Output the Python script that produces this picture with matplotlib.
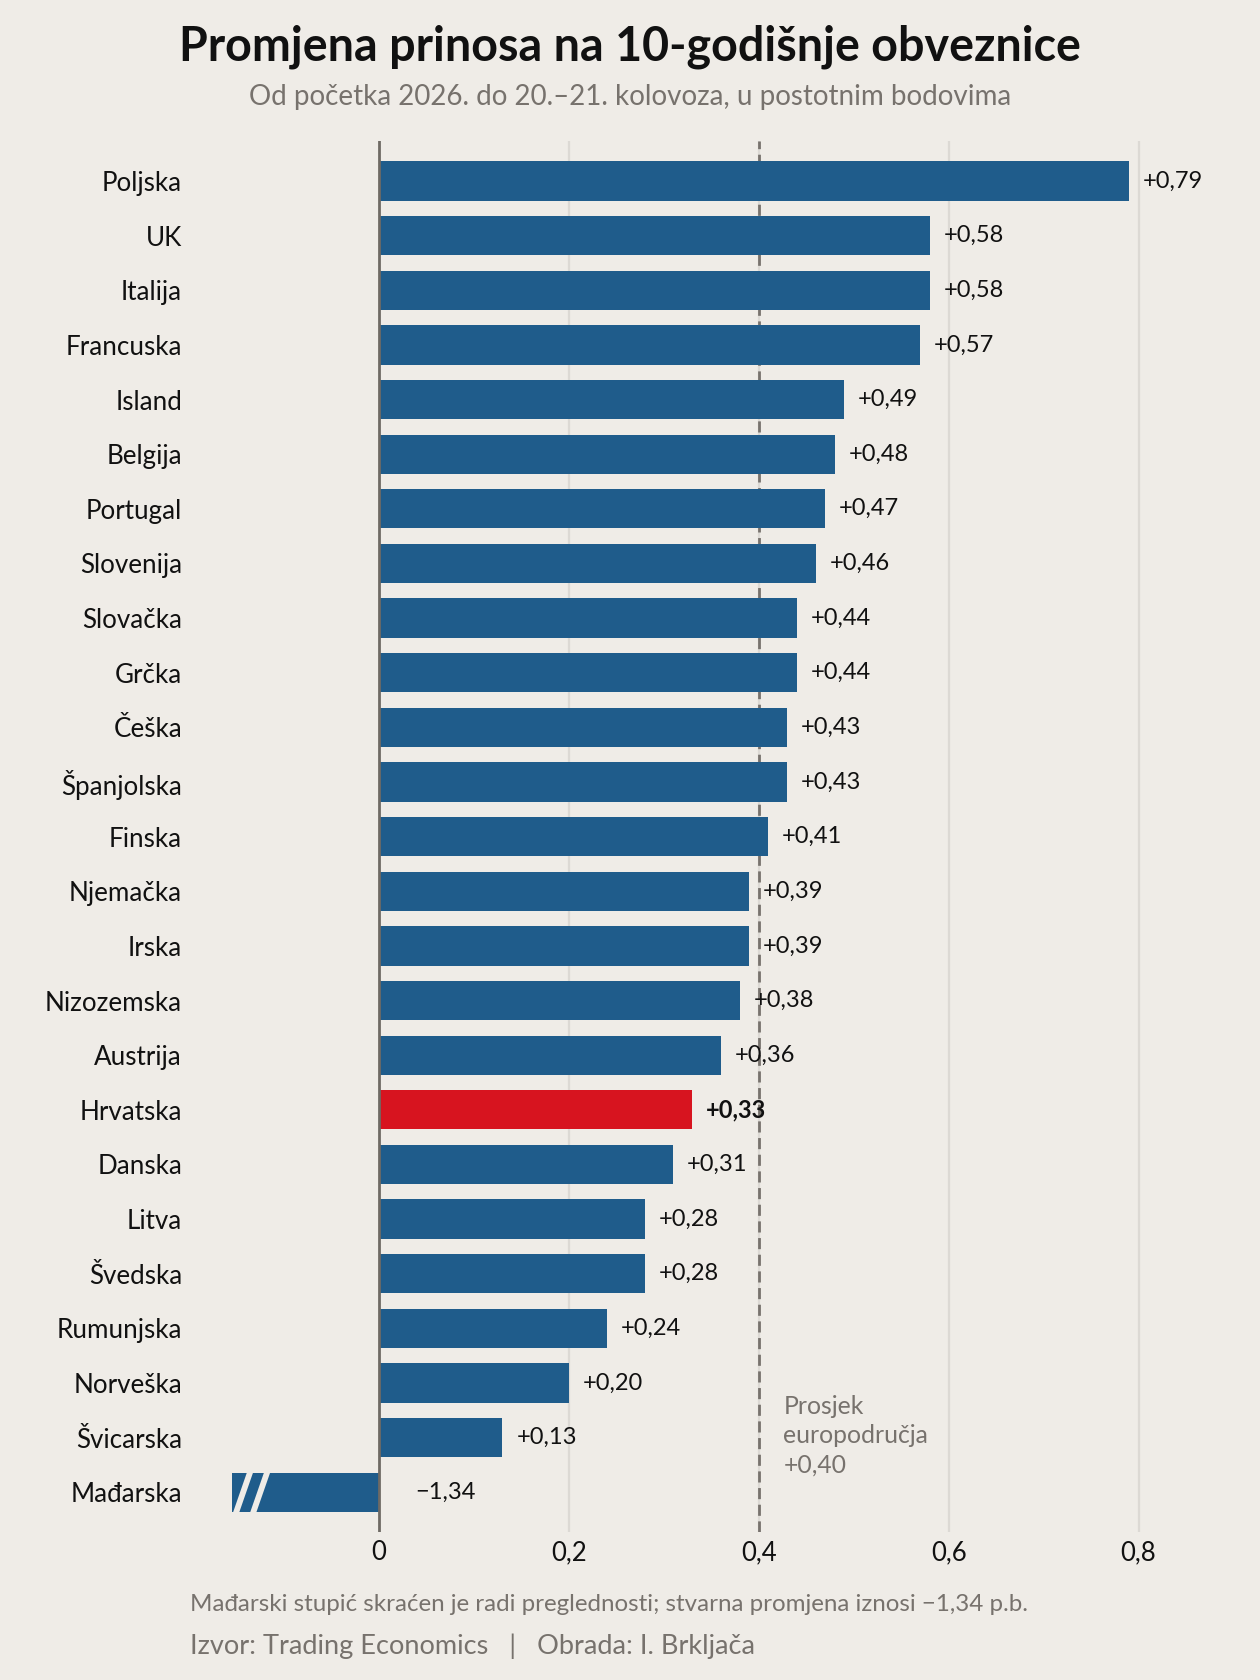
import matplotlib.pyplot as plt

# Data: change in 10-year bond yields, p.p.
countries = ['Poljska', 'UK', 'Italija', 'Francuska', 'Island', 'Belgija',
             'Portugal', 'Slovenija', 'Slovačka', 'Grčka', 'Češka',
             'Španjolska', 'Finska', 'Njemačka', 'Irska', 'Nizozemska',
             'Austrija', 'Hrvatska', 'Danska', 'Litva', 'Švedska',
             'Rumunjska', 'Norveška', 'Švicarska', 'Mađarska']
values = [0.79, 0.58, 0.58, 0.57, 0.49, 0.48, 0.47, 0.46, 0.44, 0.44, 0.43,
          0.43, 0.41, 0.39, 0.39, 0.38, 0.36, 0.33, 0.31, 0.28, 0.28, 0.24,
          0.20, 0.13, -1.34]
highlight = 'Hrvatska'
truncated = 'Mađarska'
euro_avg = 0.40
x_ticks = [0, 0.2, 0.4, 0.6, 0.8]
x_ticklabels = ['0', '0,2', '0,4', '0,6', '0,8']

# display length for the truncated bar
TRUNC_LEN = 0.155

BG = '#efece7'
BLUE = '#1f5c8b'
RED = '#d7141f'
GRAY = '#77726d'
GRID = '#dcd9d4'

plt.rcParams['font.family'] = ['Lato', 'DejaVu Sans']


def fmt(v):
    s = f'{abs(v):.2f}'.replace('.', ',')
    return ('+' if v >= 0 else '\u2212') + s


fig = plt.figure(figsize=(12.6, 16.8), dpi=100, facecolor=BG)
ax = fig.add_axes([0.150, 0.088, 0.829, 0.828], facecolor=BG)

ys = list(range(len(countries)))
for y, c, v in zip(ys, countries, values):
    color = RED if c == highlight else BLUE
    shown = -TRUNC_LEN if c == truncated else v
    bar = ax.barh(y, shown, height=0.72, color=color, zorder=2)[0]
    if c == truncated:
        # two white slashes marking the cut
        for xc in (-0.143, -0.125):
            ln, = ax.plot([xc - 0.009, xc + 0.009], [y + 0.45, y - 0.45],
                          color=BG, lw=4.2, zorder=3, solid_capstyle='butt')
            ln.set_clip_path(bar)
        ax.annotate(fmt(v), (0, y), xytext=(26, 0), textcoords='offset points',
                    va='center', ha='left', fontsize=17, color='#111111')
    else:
        ax.annotate(fmt(v), (v, y), xytext=(10, 0), textcoords='offset points',
                    va='center', ha='left', fontsize=17, color='#111111',
                    fontweight='bold' if c == highlight else 'normal',
                    zorder=4)

for xt in x_ticks[1:]:
    ax.axvline(xt, color=GRID, lw=1.6, zorder=0)
ax.axvline(0, color='#6f6a64', lw=2, zorder=3)
ax.axvline(euro_avg, color=GRAY, lw=2, dashes=(4, 2), zorder=1)

ax.text(euro_avg + 0.026, 22.22, 'Prosjek\neuropodručja\n' + fmt(euro_avg),
        ha='left', va='top', fontsize=17.8, color=GRAY, linespacing=1.32)

ax.set_xlim(-0.2, 0.9)
ax.set_ylim(24.73, -0.73)
ax.set_yticks(ys)
ax.set_yticklabels(countries, fontsize=18.7, color='#111111')
ax.set_xticks(x_ticks)
ax.set_xticklabels(x_ticklabels, fontsize=18.5, color='#111111')
ax.tick_params(axis='y', length=0, pad=5)
ax.tick_params(axis='x', length=0, pad=6)
for s in ax.spines.values():
    s.set_visible(False)

fig.text(0.5, 0.972, 'Promjena prinosa na 10-godišnje obveznice',
         ha='center', va='center', fontsize=33.6, fontweight='bold',
         color='#111111')
fig.text(0.5, 0.942, 'Od početka 2026. do 20.\u201321. kolovoza, u postotnim bodovima',
         ha='center', va='center', fontsize=20, color=GRAY)
fig.text(0.151, 0.045,
         'Mađarski stupić skraćen je radi preglednosti; stvarna promjena iznosi \u22121,34 p.b.',
         ha='left', va='center', fontsize=17.4, color=GRAY)
fig.text(0.151, 0.020, 'Izvor: Trading Economics   |   Obrada: I. Brkljača',
         ha='left', va='center', fontsize=19.5, color=GRAY)

fig.savefig('out.png', dpi=100, facecolor=BG)
